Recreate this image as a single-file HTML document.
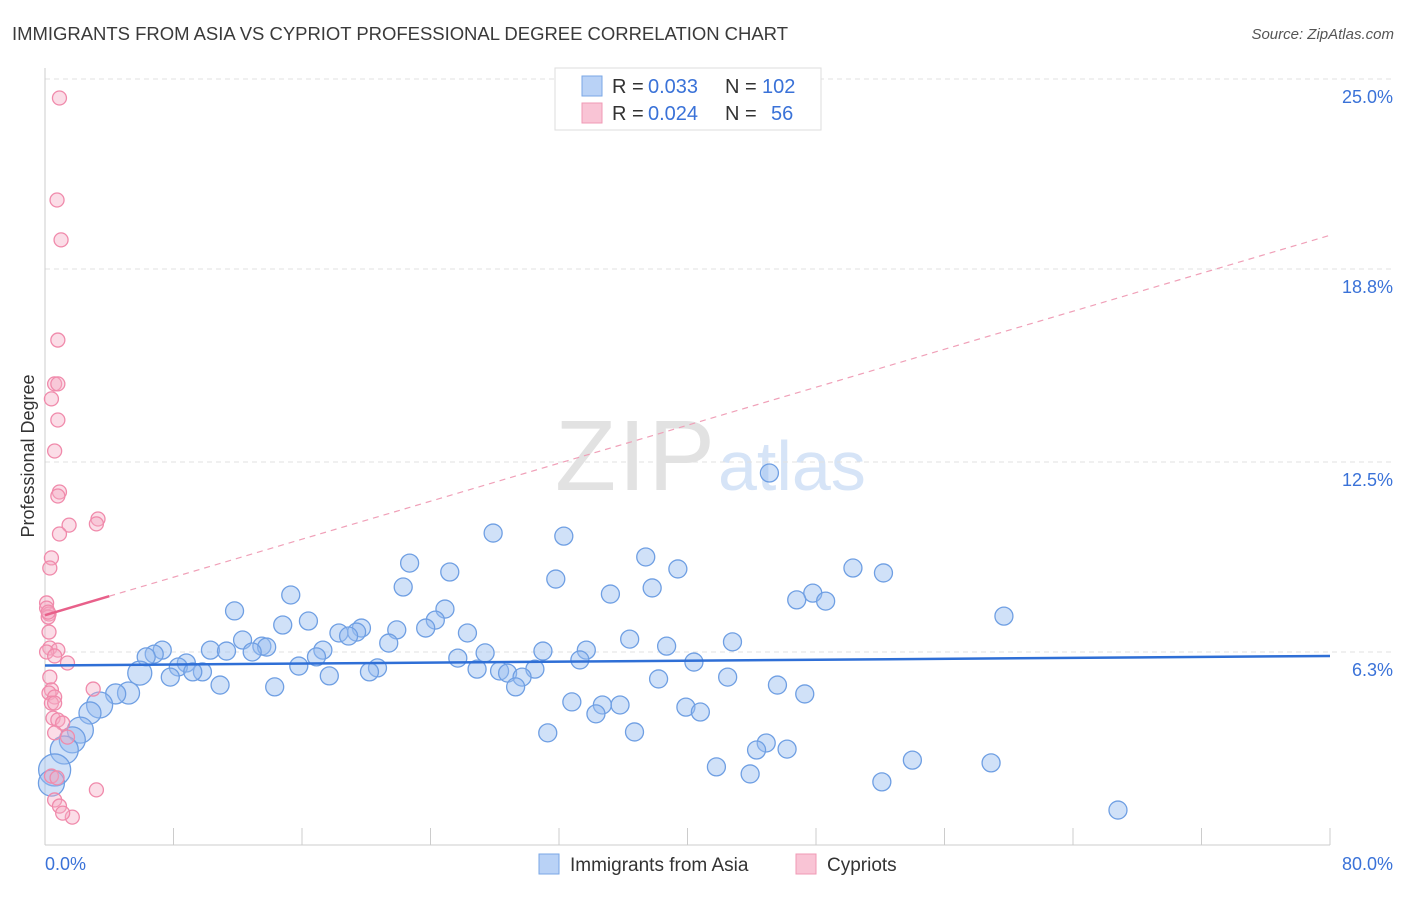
<!DOCTYPE html>
<html><head><meta charset="utf-8"><style>
body{margin:0;background:#fff;font-family:"Liberation Sans",sans-serif;}
svg text{font-family:"Liberation Sans",sans-serif;}
</style></head><body>
<svg id="chart" width="1406" height="892">
<text x="12" y="40" font-size="18.5" fill="#3a3a3a" textLength="776">IMMIGRANTS FROM ASIA VS CYPRIOT PROFESSIONAL DEGREE CORRELATION CHART</text>
<text x="1394" y="39" font-size="15" fill="#555" text-anchor="end" font-style="italic">Source: ZipAtlas.com</text>
<text x="555" y="490" font-size="100" fill="#e2e2e2" textLength="160" font-family="Liberation Serif">ZIP</text>
<text x="718" y="490" font-size="70" fill="#d6e4f7">atlas</text>
<text transform="translate(34,456) rotate(-90)" font-size="18" fill="#333" text-anchor="middle">Professional Degree</text>
<g id="grid"></g><g id="marks"></g>
<g>
<rect x="555" y="68" width="266" height="62" fill="#fff" stroke="#ddd"/>
<rect x="582" y="76" width="20" height="20" fill="#b9d2f6" stroke="#7aa7e6"/>
<rect x="582" y="103" width="20" height="20" fill="#f9c4d5" stroke="#f09ab5"/>
<text x="612" y="93" font-size="20" fill="#333">R =</text>
<text x="648" y="93" font-size="20" fill="#3a72d8">0.033</text>
<text x="725" y="93" font-size="20" fill="#333">N =</text>
<text x="762" y="93" font-size="20" fill="#3a72d8">102</text>
<text x="612" y="120" font-size="20" fill="#333">R =</text>
<text x="648" y="120" font-size="20" fill="#3a72d8">0.024</text>
<text x="725" y="120" font-size="20" fill="#333">N =</text>
<text x="771" y="120" font-size="20" fill="#3a72d8">56</text>
</g>
<g>
<rect x="539" y="854" width="20" height="20" fill="#b9d2f6" stroke="#7aa7e6"/>
<text x="570" y="871" font-size="19" fill="#333">Immigrants from Asia</text>
<rect x="796" y="854" width="20" height="20" fill="#f9c4d5" stroke="#f09ab5"/>
<text x="827" y="871" font-size="19" fill="#333">Cypriots</text>
</g>
</svg>
<script>
const yTicks=[6.3,12.5,18.8,25.0];
const yTickLabels=["6.3%","12.5%","18.8%","25.0%"];
const xTickLabels=["0.0%","80.0%"];
const blueX=[45.1,27.9,32.3,22.7,37.4,39.4,50.3,52.2,25.2,31.8,22.3,37.8,15.3,35.2,47.8,46.8,48.6,59.7,11.8,24.9,16.4,14.8,24.3,19.7,19.4,18.3,18.9,21.9,23.7,26.3,36.4,42.8,38.7,12.3,13.5,21.4,13.8,12.9,17.3,10.3,11.3,7.3,6.8,6.3,31.0,33.7,27.4,16.9,25.7,33.3,40.4,8.8,15.8,20.7,20.2,8.3,9.8,9.2,5.9,7.8,26.9,28.3,28.8,30.5,29.7,17.7,38.2,42.5,29.3,10.9,14.3,45.6,47.3,5.2,4.4,32.8,34.7,35.8,34.3,39.9,40.8,3.4,2.8,31.3,36.7,2.2,1.7,1.2,44.9,44.3,46.2,0.6,0.4,41.8,43.9,54.0,58.9,52.1,66.8];
const blueY=[12.14,10.18,10.08,9.2,9.4,9.01,9.04,8.88,8.91,8.68,8.42,8.39,8.16,8.19,8.22,8.0,7.96,7.47,7.64,7.7,7.31,7.18,7.34,7.08,6.95,6.92,6.82,7.02,7.08,6.92,6.72,6.63,6.49,6.69,6.49,6.59,6.46,6.3,6.36,6.36,6.33,6.36,6.23,6.14,6.33,6.36,6.27,6.14,6.1,6.04,5.97,5.94,5.84,5.78,5.65,5.81,5.65,5.65,5.61,5.48,5.74,5.68,5.61,5.74,5.48,5.52,5.42,5.48,5.16,5.22,5.16,5.22,4.93,4.96,4.93,4.67,4.57,4.57,4.28,4.5,4.34,4.57,4.31,3.66,3.69,3.75,3.43,3.1,3.33,3.1,3.13,2.45,2.02,2.55,2.32,2.77,2.68,2.06,1.14];
const pinkX=[0.9,0.75,1.0,0.8,0.6,0.8,0.4,0.8,0.6,0.9,0.8,1.5,0.9,3.3,3.2,0.4,0.3,0.1,0.1,0.25,0.2,0.25,0.3,0.8,0.1,0.6,1.4,0.3,0.4,0.25,0.6,3.0,0.4,0.6,0.5,0.8,1.1,0.6,1.4,0.4,0.75,0.6,0.9,3.2,1.7,1.1,0.2];
const pinkY=[24.38,21.05,19.75,16.48,15.05,15.05,14.56,13.87,12.86,11.52,11.39,10.44,10.15,10.64,10.48,9.37,9.04,7.9,7.73,7.54,7.44,6.95,6.43,6.36,6.3,6.17,5.94,5.48,5.06,4.96,4.83,5.09,4.63,4.63,4.14,4.08,3.98,3.66,3.52,2.25,2.19,1.47,1.27,1.8,0.91,1.04,7.6];
const blueTrend=[5.86,6.17];
const pinkTrend=[7.5,19.9];
const pinkSolidEnd=4;
const X0=45,X1=1330,YB=845,YT=79;
const xs=v=>X0+(v/80)*(X1-X0);
const ys=v=>YB-(v/25)*(YB-YT);
const NS="http://www.w3.org/2000/svg";
function mk(t,a,p){const e=document.createElementNS(NS,t);for(const k in a)e.setAttribute(k,a[k]);p.appendChild(e);return e;}
const grid=document.getElementById('grid'),marks=document.getElementById('marks');
yTicks.forEach((t,i)=>{
const l=mk('line',{x1:X0,x2:1392,y1:ys(t),y2:ys(t),stroke:'#e2e2e2','stroke-dasharray':'5,4'},grid);


const tx=mk('text',{x:1393,y:ys(t)+24,'font-size':18,fill:'#3a72d8','text-anchor':'end'},grid);tx.textContent=yTickLabels[i];


});
mk('line',{x1:X0,x2:X0,y1:68,y2:YB,stroke:'#ccc'},grid);
mk('line',{x1:X0,x2:X1,y1:YB,y2:YB,stroke:'#ccc'},grid);
for(let k=0;k<=10;k++){const l=mk('line',{x1:xs(k*8),x2:xs(k*8),y1:828,y2:YB,stroke:'#ccc'},grid);

}
const t0=mk('text',{x:45,y:870,'font-size':18,fill:'#3a72d8'},grid);t0.textContent=xTickLabels[0];


const t1=mk('text',{x:1393,y:870,'font-size':18,fill:'#3a72d8','text-anchor':'end'},grid);t1.textContent=xTickLabels[1];


const big={58:12,73:11,74:10,81:13,82:11,85:13,86:13,87:14,91:16,92:13};
blueX.forEach((v,i)=>{const r=big[i]||9;
const c=mk('circle',{cx:xs(v),cy:ys(blueY[i]),r:r,fill:'rgba(150,188,240,0.45)',stroke:'#6f9fe3','stroke-width':1.3},marks);

});
pinkX.forEach((v,i)=>{
const c=mk('circle',{cx:xs(v),cy:ys(pinkY[i]),r:7,fill:'rgba(246,170,196,0.4)',stroke:'#f08aab','stroke-width':1.3},marks);

});
const bl=mk('line',{x1:xs(0),x2:xs(80),y1:ys(blueTrend[0]),y2:ys(blueTrend[1]),stroke:'#2f6fd6','stroke-width':2.5},marks);


const pv=x=>pinkTrend[0]+(pinkTrend[1]-pinkTrend[0])*x/80;
const pd=mk('line',{x1:xs(pinkSolidEnd),x2:xs(80),y1:ys(pv(pinkSolidEnd)),y2:ys(pv(80)),stroke:'#f0a0b8','stroke-width':1.2,'stroke-dasharray':'6,5'},marks);


const ps=mk('line',{x1:xs(0),x2:xs(pinkSolidEnd),y1:ys(pv(0)),y2:ys(pv(pinkSolidEnd)),stroke:'#e8608a','stroke-width':2.5},marks);


</script>
</body></html>
